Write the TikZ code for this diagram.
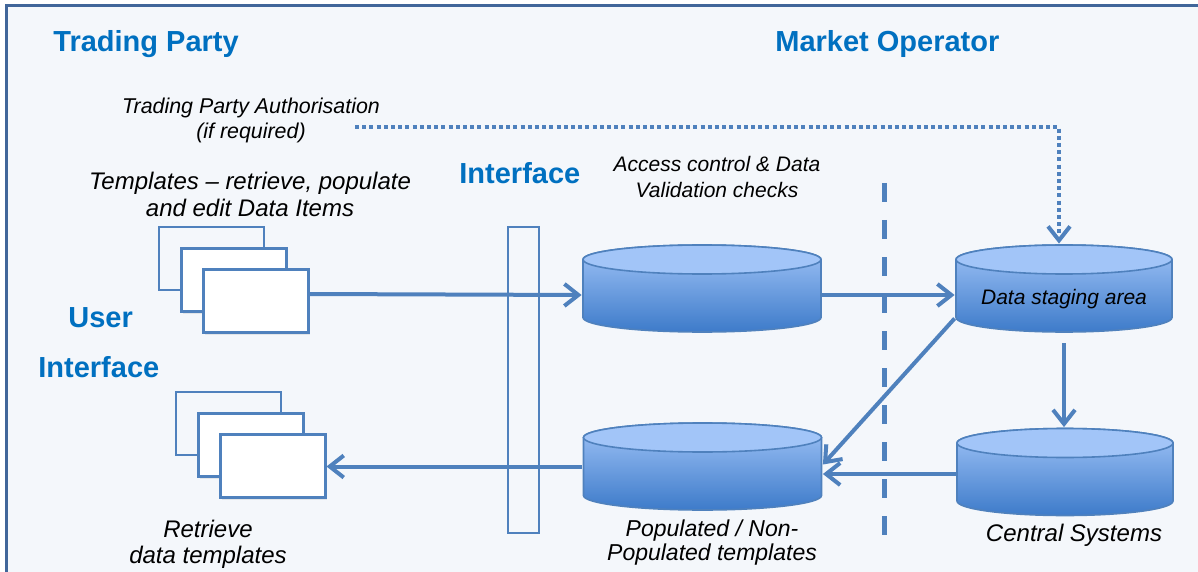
\documentclass[tikz,border=0pt]{standalone}
\usepackage{fontspec}
\setmainfont{Liberation Sans}
\usetikzlibrary{shapes.geometric,arrows.meta,positioning,calc,shadows}
\definecolor{mainblue}{HTML}{4F81BD}
\definecolor{headblue}{HTML}{0070C0}
\definecolor{framecol}{HTML}{41669A}
\definecolor{panel}{HTML}{F4F7FB}
\definecolor{cyltop}{HTML}{A2C5F8}
\definecolor{cylbot}{HTML}{3C7AC9}

\begin{document}
\begin{tikzpicture}[x=0.5pt,y=-0.5pt,
    head/.style={font=\bfseries\fontsize{14.5}{17}\selectfont,text=headblue,anchor=base west,inner sep=0},
    note/.style={font=\itshape,align=center,inner sep=0},
    tmplback/.style={draw=mainblue,line width=1pt,fill=panel,minimum width=52.5pt,minimum height=31.5pt,inner sep=0},
    tmpl/.style={tmplback,line width=1.5pt,fill=white,drop shadow={opacity=0.15,shadow xshift=1pt,shadow yshift=-1.5pt}},
    db/.style={minimum width=#1+1pt,minimum height=44.5pt,inner sep=0,
      path picture={
        \shade[top color=cyltop,bottom color=cylbot,draw=mainblue,line width=0.8pt]
          ([shift={(-#1/2,14.5pt)}]path picture bounding box.center)
          -- ([shift={(-#1/2,-14.5pt)}]path picture bounding box.center)
          arc[start angle=180,end angle=360,x radius=#1/2,y radius=7.25pt]
          -- ([shift={(#1/2,14.5pt)}]path picture bounding box.center)
          arc[start angle=0,end angle=180,x radius=#1/2,y radius=7.25pt] -- cycle;
        \draw[mainblue,line width=0.8pt,fill=cyltop]
          ([yshift=14.5pt]path picture bounding box.center) ellipse[x radius=#1/2,y radius=7.25pt];
      }},
    arr/.style={mainblue,line width=2pt,-{Straight Barb[length=7pt,width=11pt]}},
    dotarr/.style={arr,dash pattern=on 2pt off 1.6pt},
    sepline/.style={mainblue,line width=2.5pt,dash pattern=on 9.5pt off 9pt}]
  \useasboundingbox (0,0) rectangle (1198,572);
  \draw[framecol,line width=1.5pt,fill=panel] (6,6) rectangle (1230,600);

  % headings
  \node[head] (tparty) at (53,52) {Trading Party};
  \node[head] (mop) at (775,52) {Market Operator};
  \node[head] (iface) at (459,184) {Interface};
  \node[head] (uiuser) at (68,327) {User};
  \node[head] (uiface) at (38,377) {Interface};

  % notes
  \node[note,font=\itshape\fontsize{10.7}{12.5}\selectfont] (auth) at (251,120) {Trading Party Authorisation\\(if required)};
  \node[note,font=\itshape\fontsize{12}{13.5}\selectfont] (tmpltxt) at (250,194) {Templates -- retrieve, populate\\and edit Data Items};
  \node[note,font=\itshape\fontsize{10.5}{13}\selectfont] (access) at (717,177) {Access control \& Data\\Validation checks};
  \node[note,font=\itshape\fontsize{12}{13}\selectfont] (central) at (1074,535) {Central Systems};
  \node[note,font=\itshape\fontsize{11.5}{12}\selectfont] (popl) at (712,543) {Populated / Non-\\Populated templates};
  \node[note,font=\itshape\fontsize{12}{13}\selectfont] (retr) at (208,544) {Retrieve\\data templates};

  % template stacks
  \node[tmplback] (tp1) at (211.5,258.5) {};
  \node[tmpl] (tp2) at ($(tp1)+(22,21)$) {};
  \node[tmpl] (tp3) at ($(tp2)+(22,21)$) {};
  \node[tmplback] (rt1) at (228.5,423.5) {};
  \node[tmpl] (rt2) at ($(rt1)+(22,21)$) {};
  \node[tmpl] (rt3) at ($(rt2)+(22,21)$) {};

  % interface bar
  \node[draw=mainblue,line width=1pt,minimum width=15.5pt,minimum height=153pt,inner sep=0] (ifbar) at (523.5,380) {};

  % stores
  \node[db=119pt] (acc) at (702,288.5) {};
  \node[db=108pt] (stage) at (1064,288.5) {};
  \node[note,font=\itshape\fontsize{10.5}{13}\selectfont] (stagetxt) at ($(stage)+(0,11)$) {Data staging area};
  \node[db=108pt] (csys) at (1065,472) {};
  \node[db=119pt] (pop) at (702.5,466.5) {};

  % separator
  \coordinate (septop) at (884,183);
  \coordinate (sepbot) at (884,545);
  \draw[sepline] (septop) -- (sepbot);

  % flows
  \draw[arr] ($(tp3.east)+(0,-6.5)$) -- ($(acc.west)+(0,6.5)$);
  \draw[arr] ($(acc.east)+(0,6.5)$) -- ($(stage.west)+(0,6.5)$);
  \draw[arr] ($(stage.south)+(0,10)$) -- (stage.south |- csys.north);
  \draw[arr] ($(stage.west)+(0,30)$) -- ($(pop.east)+(0,-2)$);
  \draw[arr] ($(csys.west)+(0,2)$) -- ($(pop.east)+(0,7.5)$);
  \draw[arr] (pop.west) -- (pop.west -| rt3.east);
  \coordinate (dotstart) at (355,127);
  \draw[dotarr] (dotstart) -| ($(stage.north)+(-5,0)$);
\end{tikzpicture}
\end{document}
